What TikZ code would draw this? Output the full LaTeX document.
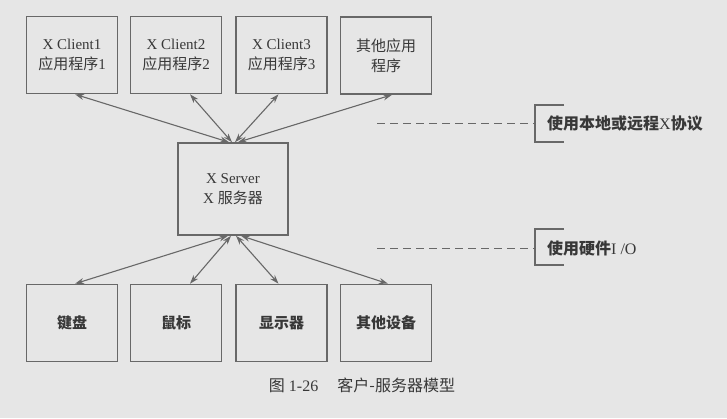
\documentclass[tikz,border=0pt]{standalone}
\usepackage{fontspec}
\setmainfont{Liberation Serif}
\newfontfamily\cjk{Noto Sans CJK SC}
\usetikzlibrary{arrows.meta,calc}
\definecolor{bgc}{HTML}{E6E6E6}
\definecolor{linec}{HTML}{686868}
\definecolor{txtc}{HTML}{383838}
\tikzset{
  box/.style={draw=linec,line width=1.6pt,minimum width=91pt,minimum height=77pt,inner sep=0pt,align=center,text=txtc,font=\fontsize{15}{20}\selectfont},
  conn/.style={draw=linec,line width=1.1pt,{Stealth[length=9pt,width=6pt]}-{Stealth[length=9pt,width=6pt]}},
  dashln/.style={draw=linec,line width=1pt,dash pattern=on 8pt off 5pt},
  brk/.style={draw=linec,line width=1.3pt},
  lbl/.style={anchor=west,inner sep=0pt,text=txtc,font=\fontsize{16}{19}\selectfont}
}
\begin{document}
\begin{tikzpicture}[x=1pt,y=-1pt]
\fill[bgc] (0,0) rectangle (727,418);
\useasboundingbox (0,0) rectangle (727,418);
% top row
\node[box] (c1) at (72,55) {X Client1\\{\cjk 应用程序}1};
\node[box] (c2) at (176,55) {X Client2\\{\cjk 应用程序}2};
\node[box] (c3) at (281.5,55) {X Client3\\{\cjk 应用程序}3};
\node[box] (c4) at (386,55.5) {{\cjk 其他应用}\\{\cjk 程序}};
% server
\node[box,minimum width=110pt,minimum height=92pt] (srv) at (233,189) {X Server\\X {\cjk 服务器}};
% bottom row
\node[box] (d1) at (72,323) {{\cjk\bfseries 键盘}};
\node[box] (d2) at (176,323) {{\cjk\bfseries 鼠标}};
\node[box] (d3) at (281.5,323) {{\cjk\bfseries 显示器}};
\node[box] (d4) at (386,323) {{\cjk\bfseries 其他设备}};
% connectors top
\draw[conn] ($(srv.north)+(-4,0)$) -- ($(c1.south)+(3,0)$);
\draw[conn] ($(srv.north)+(-1,0)$) -- ($(c2.south)+(14,0)$);
\draw[conn] ($(srv.north)+(2,0)$) -- ($(c3.south)+(-3,0)$);
\draw[conn] ($(srv.north)+(5,0)$) -- ($(c4.south)+(6,0)$);
% connectors bottom
\draw[conn] ($(srv.south)+(-5,0)$) -- ($(d1.north)+(3,0)$);
\draw[conn] ($(srv.south)+(-2,0)$) -- ($(d2.north)+(14,0)$);
\draw[conn] ($(srv.south)+(3,0)$) -- ($(d3.north)+(-3,0)$);
\draw[conn] ($(srv.south)+(8,0)$) -- ($(d4.north)+(2,0)$);
% protocol labels
\coordinate (p1a) at (377,123);
\coordinate (p1b) at (535,123);
\draw[dashln] (p1a) -- (p1b);
\draw[brk] (564,105) -- (535,105) -- (535,142) -- (564,142);
\node[lbl] (l1) at (547,123) {{\cjk\bfseries 使用本地或远程}X{\cjk\bfseries 协议}};
\coordinate (p2a) at (377,248);
\coordinate (p2b) at (535,248);
\draw[dashln] (p2a) -- (p2b);
\draw[brk] (564,229) -- (535,229) -- (535,265) -- (564,265);
\node[lbl] (l2) at (547,248) {{\cjk\bfseries 使用硬件}I /O};
% caption
\node[text=txtc,font=\fontsize{16}{19}\selectfont,inner sep=0pt] (cap) at (362,385) {{\cjk 图} 1-26\hspace{1.2em}{\cjk 客户-服务器模型}};
\end{tikzpicture}
\end{document}
